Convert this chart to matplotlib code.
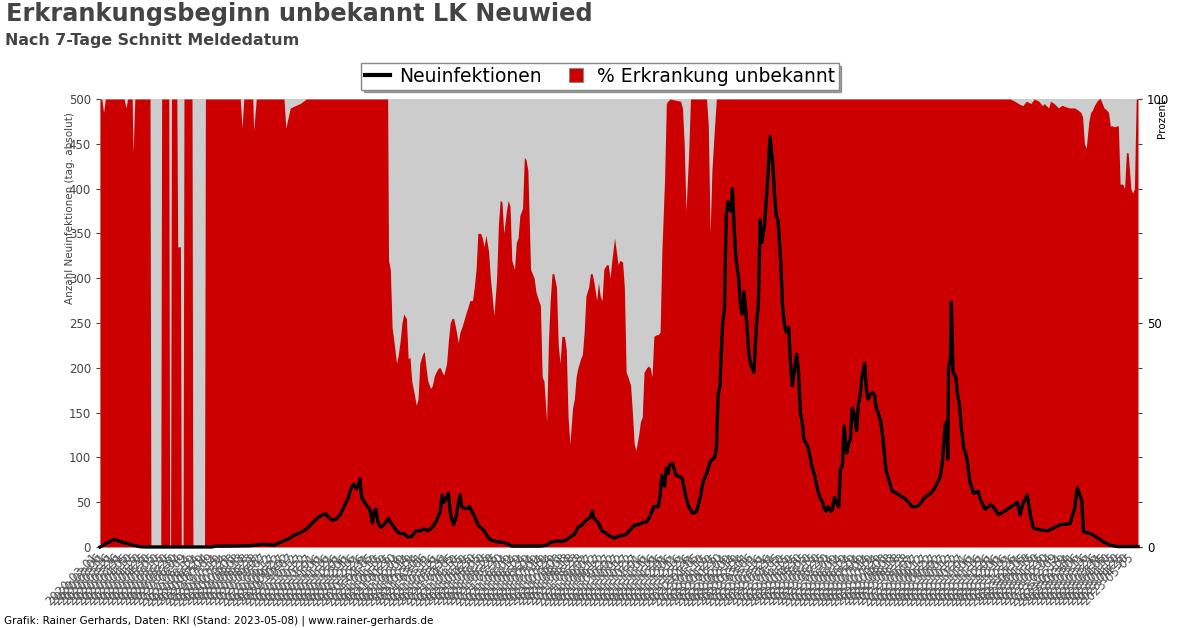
import pandas as pd
import matplotlib
matplotlib.use("Agg")
import matplotlib.pyplot as plt
from matplotlib.lines import Line2D

start_date = "2020-03-01"
end_day = 1162

line_days = [0, 2, 5, 9, 13, 17, 20, 26, 30, 37, 45, 52, 125, 130, 146, 168, 183, 195, 199, 204, 208, 213, 217, 222, 226, 231, 235, 240, 244, 249, 253, 255, 260, 264, 269, 273, 278, 280, 282, 284, 287, 289, 291, 293, 298, 302, 305, 307, 309, 311, 314, 318, 323, 325, 327, 332, 336, 340, 345, 349, 354, 358, 363, 367, 372, 376, 381, 383, 385, 388, 390, 392, 394, 396, 399, 401, 403, 405, 408, 412, 414, 417, 419, 421, 423, 426, 430, 435, 439, 444, 452, 457, 461, 493, 500, 504, 508, 513, 517, 522, 526, 531, 535, 540, 544, 549, 551, 553, 558, 562, 567, 571, 576, 580, 585, 589, 594, 598, 603, 607, 612, 616, 620, 625, 627, 629, 632, 634, 636, 638, 641, 643, 645, 650, 652, 654, 656, 659, 661, 663, 665, 668, 670, 672, 674, 676, 679, 681, 683, 688, 690, 692, 694, 697, 699, 701, 703, 706, 708, 710, 712, 715, 717, 719, 721, 724, 726, 728, 730, 732, 735, 737, 739, 741, 744, 746, 748, 750, 753, 755, 757, 759, 762, 764, 766, 768, 771, 773, 775, 777, 780, 782, 784, 786, 788, 791, 793, 795, 797, 800, 802, 804, 806, 809, 811, 813, 815, 818, 820, 822, 824, 827, 829, 831, 833, 836, 838, 840, 842, 844, 847, 849, 851, 853, 856, 858, 860, 862, 865, 867, 869, 871, 874, 876, 878, 880, 883, 885, 887, 892, 896, 900, 905, 909, 914, 918, 923, 927, 930, 934, 939, 941, 943, 945, 946, 948, 949, 950, 952, 953, 955, 958, 960, 962, 964, 967, 969, 971, 974, 978, 983, 986, 991, 997, 1000, 1006, 1011, 1017, 1023, 1027, 1030, 1033, 1038, 1042, 1045, 1053, 1061, 1067, 1075, 1086, 1091, 1094, 1099, 1101, 1109, 1117, 1123, 1131, 1139, 1162]
line_vals = [0, 1, 3, 5, 7, 8.5, 7, 5, 4, 2, 0.3, 0, 0, 1, 1, 1.5, 3, 2, 4, 6, 8, 10, 13, 15, 17, 20, 24, 29, 33, 36, 37, 34, 30, 31, 36, 45, 55, 63, 67, 70, 65, 68, 76, 55, 47, 42, 27, 40, 42, 28, 22, 25, 32, 28, 25, 18, 15, 15, 11, 12, 18, 18, 20, 18, 22, 28, 40, 58, 50, 55, 60, 40, 30, 25, 35, 48, 58, 45, 43, 43, 45, 38, 35, 30, 25, 22, 18, 10, 7, 6, 5, 3, 1, 1, 2, 5, 6, 7, 6, 8, 11, 14, 22, 25, 30, 33, 40, 32, 27, 18, 15, 12, 10, 12, 13, 14, 20, 24, 25, 27, 28, 35, 45, 45, 58, 80, 68, 88, 82, 92, 93, 86, 80, 78, 76, 65, 55, 45, 42, 38, 38, 40, 48, 55, 68, 75, 82, 88, 95, 100, 110, 170, 180, 250, 265, 370, 385, 375, 400, 355, 320, 300, 270, 260, 285, 250, 220, 205, 200, 195, 250, 270, 365, 340, 360, 390, 420, 458, 430, 395, 370, 365, 320, 270, 250, 240, 245, 205, 180, 195, 215, 195, 150, 140, 120, 115, 110, 100, 90, 80, 70, 62, 55, 50, 42, 40, 45, 40, 42, 55, 50, 45, 88, 90, 135, 105, 115, 120, 155, 150, 130, 160, 170, 190, 205, 175, 165, 170, 172, 170, 155, 150, 140, 125, 105, 85, 75, 68, 62, 60, 57, 55, 50, 45, 45, 48, 55, 58, 60, 65, 75, 80, 95, 120, 135, 140, 98, 200, 210, 273, 195, 190, 170, 160, 135, 110, 105, 95, 72, 60, 62, 52, 42, 47, 45, 36, 39, 43, 47, 50, 36, 48, 58, 33, 21, 19, 18, 21, 25, 26, 43, 66, 52, 17, 15, 10, 6, 2, 0.5, 0.5]

pct_days = [0, 2, 4, 6, 27, 29, 31, 36, 37, 39, 56, 57, 68, 69, 77, 78, 79, 80, 86, 87, 90, 91, 93, 94, 103, 104, 117, 118, 157, 159, 161, 171, 172, 175, 206, 208, 213, 224, 231, 322, 323, 325, 327, 329, 332, 334, 336, 338, 340, 343, 345, 347, 349, 352, 354, 356, 358, 361, 363, 365, 367, 370, 372, 374, 376, 379, 381, 383, 385, 388, 390, 392, 394, 396, 399, 401, 403, 405, 408, 410, 412, 414, 417, 419, 421, 423, 426, 428, 430, 432, 435, 437, 439, 441, 444, 446, 448, 450, 452, 455, 457, 459, 461, 464, 466, 468, 470, 473, 475, 477, 479, 482, 484, 486, 488, 491, 493, 495, 497, 500, 502, 504, 506, 508, 511, 513, 515, 517, 520, 522, 524, 526, 529, 531, 533, 535, 538, 540, 542, 544, 547, 549, 551, 553, 556, 558, 560, 562, 564, 567, 569, 571, 573, 576, 578, 580, 582, 585, 587, 589, 591, 594, 596, 598, 600, 603, 605, 607, 609, 612, 614, 616, 618, 620, 623, 625, 627, 629, 632, 634, 636, 638, 650, 652, 654, 656, 659, 661, 679, 681, 683, 685, 688, 690, 1015, 1019, 1024, 1028, 1033, 1037, 1042, 1046, 1051, 1055, 1057, 1062, 1064, 1068, 1073, 1077, 1082, 1086, 1091, 1095, 1098, 1100, 1102, 1104, 1107, 1109, 1111, 1113, 1116, 1118, 1120, 1122, 1124, 1127, 1129, 1131, 1133, 1136, 1138, 1140, 1142, 1145, 1147, 1149, 1151, 1154, 1156, 1158, 1160, 1162]
pct_vals = [100, 100, 97, 100, 100, 98, 100, 100, 88, 100, 100, 0, 0, 100, 100, 0, 0, 100, 100, 67, 67, 0, 0, 100, 100, 0, 0, 100, 100, 93.5, 100, 100, 93, 100, 100, 93.5, 98, 99, 100, 100, 64, 62, 49, 46, 41, 43, 46, 50, 52, 51, 42, 42.4, 37, 34, 31.6, 33, 41, 43, 43.6, 40, 37, 35.4, 36, 38, 39, 40, 40, 39, 38.4, 41, 46, 50, 51, 51, 48, 45.6, 48, 49, 51, 52.4, 53.6, 55, 55, 58, 62, 70, 70, 69, 67, 69.6, 66, 60, 56, 51.6, 60, 72, 77.4, 77, 70, 75, 77.4, 76, 64, 62, 68, 69, 74, 75.6, 87, 86.4, 84, 62, 61, 60, 57, 55, 54, 38, 37, 28, 46, 55, 61, 61, 58, 45, 41, 47, 47, 44, 29, 23, 31, 33, 38, 40, 42, 43, 48, 56, 58, 61, 61, 59, 55, 59, 56, 55, 62, 63, 63, 60, 64, 69, 66, 63, 64, 63.6, 58, 39, 38, 36, 30, 23, 21.6, 25, 28, 29, 39, 40, 40.4, 40, 38, 47, 47.4, 47.4, 48, 66, 82, 99, 99.6, 100, 99.5, 98, 90, 75, 88, 100, 100, 94, 70, 84, 94, 100, 100, 100, 99.5, 99, 98.5, 99.5, 99, 100, 99.5, 98.5, 99, 98, 99.5, 99, 98, 98.6, 98.2, 98, 98, 97.5, 97, 96, 90, 89, 95, 97, 97.5, 98.5, 99.5, 100, 100, 99, 98, 97.5, 97, 94, 94, 93.8, 94, 94, 81, 81, 80, 88, 88, 80, 79, 80, 100, 100]

title = "Erkrankungsbeginn unbekannt LK Neuwied"
subtitle = "Nach 7-Tage Schnitt Meldedatum"
footer = "Grafik: Rainer Gerhards, Daten: RKI (Stand: 2023-05-08) | www.rainer-gerhards.de"
legend_labels = ["Neuinfektionen", "% Erkrankung unbekannt"]

start = pd.Timestamp(start_date)
line_x = start + pd.to_timedelta(line_days, unit="D")
pct_x = start + pd.to_timedelta(pct_days, unit="D")

RED = "#cc0000"
GRAY_BG = "#cccccc"
TXT = "#444444"

fig = plt.figure(figsize=(12, 6.28), dpi=100)
ax1 = fig.add_axes([100 / 1200, 1 - 547 / 628, 1038 / 1200, 448 / 628])
ax2 = ax1.twinx()
ax1.set_zorder(ax2.get_zorder() + 1)
ax1.patch.set_visible(False)
ax2.patch.set_visible(True)
ax2.patch.set_facecolor(GRAY_BG)

ax2.fill_between(pct_x, 0, pct_vals, color=RED, linewidth=0)
ax1.plot(line_x, line_vals, color="black", linewidth=2.4, clip_on=False, solid_joinstyle="round")

ax1.set_ylim(0, 500)
ax2.set_ylim(0, 100)
xmin = start
xmax = start + pd.Timedelta(days=end_day)
ax1.set_xlim(xmin, xmax)

for a in (ax1, ax2):
    for s in a.spines.values():
        s.set_visible(False)

ax1.set_yticks(range(0, 501, 50))
ax2.set_yticks([0, 50, 100])
ax1.tick_params(axis="y", labelsize=8.5, labelcolor=TXT, color=TXT, length=3, right=True)
ax2.tick_params(axis="y", labelsize=8.5, labelcolor="black", color=TXT, length=3)

ticks = pd.date_range(xmin, xmax, freq="5D")
ax1.set_xticks(ticks)
ax1.set_xticklabels([t.strftime("%Y-%m-%d") for t in ticks], rotation=45, ha="right",
                    fontsize=8.5, color="#555555")
ax1.tick_params(axis="x", length=0, pad=3)

ax1.set_ylabel("Anzahl Neuinfektionen (tag. absolut)", fontsize=7.5, color=TXT, loc="top")
ax1.yaxis.set_label_coords(-0.024, 0.971)
ax2.set_ylabel("Prozent", fontsize=7.5, color="black", loc="top")
ax2.yaxis.set_label_coords(1.018, 1.0)

fig.text(6 / 1200, 1 - 2 / 628, title, fontsize=17.3, fontweight="bold", color=TXT, va="top", ha="left")
fig.text(5 / 1200, 1 - 33 / 628, subtitle, fontsize=11.4, fontweight="bold", color=TXT, va="top", ha="left")
fig.text(4 / 1200, 1 - 621 / 628, footer, fontsize=7.5, color="black", va="center", ha="left")

handles = [Line2D([0], [0], color="black", linewidth=3),
           Line2D([0], [0], linestyle="none", marker="s", markersize=10.5,
                  markerfacecolor=RED, markeredgecolor="#888888", markeredgewidth=0.8)]
fig.legend(handles, legend_labels, loc="upper center",
           bbox_to_anchor=(0.5, 1 - 63 / 628), borderaxespad=0, ncol=2, fontsize=13.5,
           frameon=True, fancybox=False, shadow=True, edgecolor="#888888", borderpad=0.2,
           handlelength=1.35, columnspacing=1.15, handletextpad=0.45)

fig.savefig("out.png", dpi=100)
